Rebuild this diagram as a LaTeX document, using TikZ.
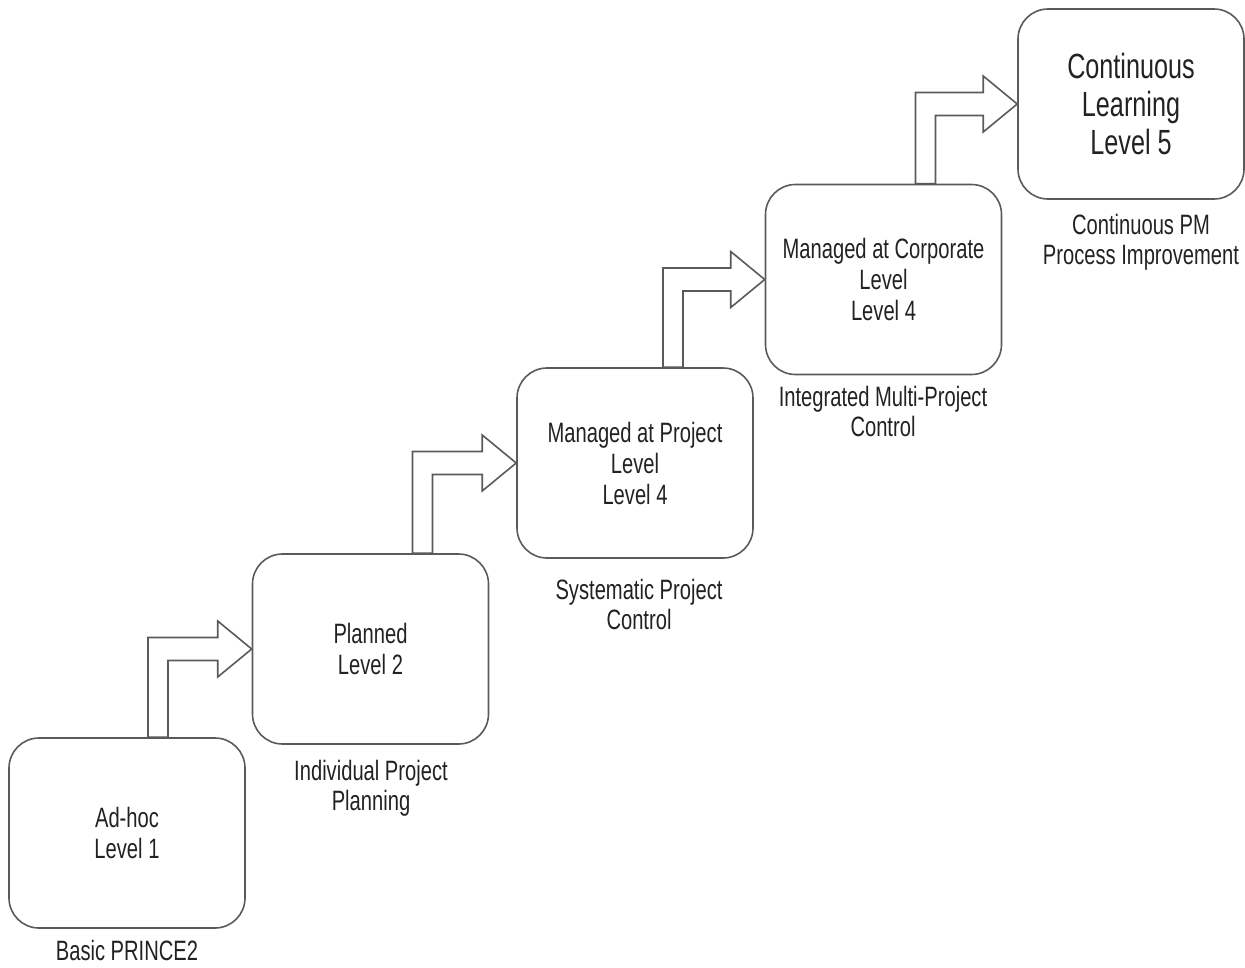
\documentclass[tikz,border=0pt]{standalone}
\usepackage{fontspec}
\setmainfont{Liberation Sans}[FakeStretch=0.72]
\definecolor{linegray}{HTML}{5A5A5A}
\definecolor{textgray}{HTML}{222222}
\begin{document}
\begin{tikzpicture}
        [%%%%%%%%%%%%%%%%%%%%%%%%%%%%%%
            x=1pt,y=-1pt,
            level/.style={draw=linegray,line width=1.6pt,rounded corners=30pt,
                minimum width=236pt,minimum height=190pt,align=center,
                text=textgray,font=\fontsize{28}{31}\selectfont},
            toplevel/.style={level,minimum width=226pt,font=\fontsize{35}{38}\selectfont},
            caption/.style={align=center,text=textgray,font=\fontsize{28}{30}\selectfont},
            stair/.style={draw=linegray,line width=1.6pt,fill=white,line join=miter},
        ]%%%%%%%%%%%%%%%%%%%%%%%%%%%%%%
        \useasboundingbox (0,0) rectangle (1245,967);

        \node[level] (b1) at (127,833){Ad-hoc\\Level 1};
        \node[level] (b2) at (370.5,649){Planned\\Level 2};
        \node[level] (b3) at (635,463){Managed at Project\\Level\\Level 4};
        \node[level] (b4) at (883.5,279.5){Managed at Corporate\\Level\\Level 4};
        \node[toplevel] (b5) at (1131,104){Continuous\\Learning\\Level 5};

        \node[caption] (l1) at (127,950){Basic PRINCE2};
        \node[caption] (l2) at (371,788){Individual Project\\Planning};
        \node[caption] (l3) at (639,604){Systematic Project\\Control};
        \node[caption] (l4) at (883,411.5){Integrated Multi-Project\\Control};
        \node[caption] (l5) at (1141,242){Continuous PM\\Process Improvement};

        \foreach \lo/\up/\s in {b1/b2/21,b2/b3/42,b3/b4/28,b4/b5/32}{
            \draw[stair] ([xshift=\s pt]\lo.north) |- ([shift={(-34pt,11.5pt)}]\up.west)
                -- ([shift={(-34pt,28pt)}]\up.west) -- (\up.west)
                -- ([shift={(-34pt,-28pt)}]\up.west) -- ([shift={(-34pt,-11.5pt)}]\up.west)
                -| ([xshift=\s pt+20pt]\lo.north) -- cycle;
        }
    \end{tikzpicture}
\end{document}
